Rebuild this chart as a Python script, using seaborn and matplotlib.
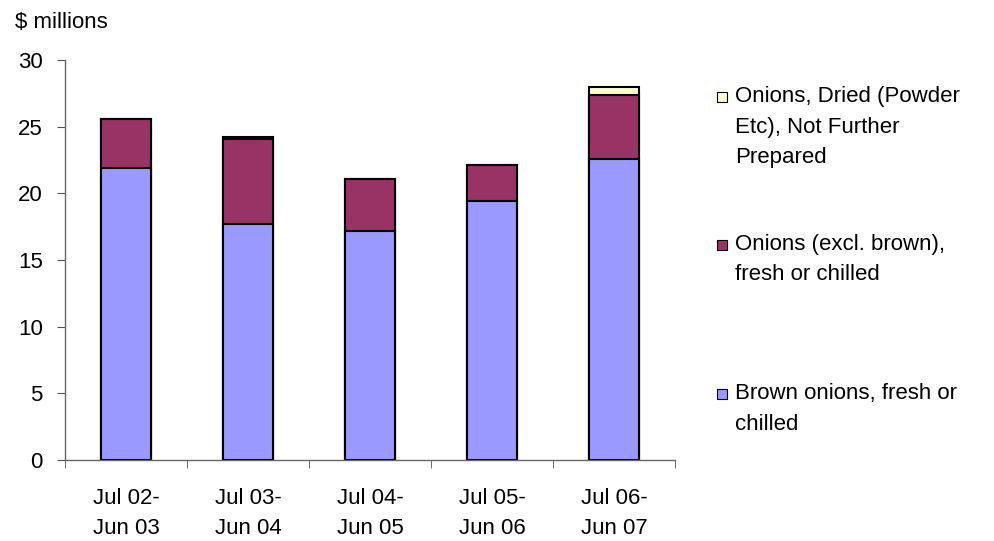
import matplotlib
matplotlib.use("Agg")
import matplotlib.pyplot as plt
from matplotlib.patches import Rectangle
from matplotlib.ticker import FixedLocator
import numpy as np
import pandas as pd
import seaborn as sns

periods = ['Jul 02-\nJun 03', 'Jul 03-\nJun 04', 'Jul 04-\nJun 05', 'Jul 05-\nJun 06', 'Jul 06-\nJun 07']
brown = [21.9, 17.7, 17.2, 19.4, 22.6]
other = [3.7, 6.4, 3.9, 2.7, 4.8]
dried = [0.0, 0.15, 0.0, 0.0, 0.6]

labels = ['Onions, Dried (Powder\nEtc), Not Further\nPrepared',
          'Onions (excl. brown),\nfresh or chilled',
          'Brown onions, fresh or\nchilled']
colors = ['#FFFFCC', '#993366', '#9999FF']

sns.set_style('white')
plt.rcParams['font.family'] = ['Liberation Sans', 'DejaVu Sans']
plt.rcParams['text.color'] = 'black'
plt.rcParams['xtick.labelcolor'] = 'black'
plt.rcParams['ytick.labelcolor'] = 'black'
FS = 16

df = pd.DataFrame({'period': periods, 'brown': brown, 'other': other, 'dried': dried})
df['lvl1'] = df['brown']
df['lvl2'] = df['lvl1'] + df['other']
df['lvl3'] = df['lvl2'] + df['dried']

fig = plt.figure(figsize=(9.94, 5.41), dpi=100)
ax = fig.add_axes([0.0654, 0.150, 0.614, 0.739])

# draw cumulative totals from back to front so each segment shows
for col, c in zip(['lvl3', 'lvl2', 'lvl1'], colors):
    sns.barplot(data=df, x='period', y=col, color=c, width=0.41,
                edgecolor='black', linewidth=1.5, saturation=1, ax=ax)

ax.set_ylim(0, 30)
ax.set_xlim(-0.5, len(periods) - 0.5)
ax.set_yticks(np.arange(0, 31, 5))
ax.tick_params(axis='y', labelsize=FS, length=6, color='#555555', left=True, pad=10)
ax.tick_params(axis='x', which='major', labelsize=FS, length=0, pad=20.5)
ax.xaxis.set_minor_locator(FixedLocator(np.arange(-0.5, len(periods), 1)))
ax.tick_params(axis='x', which='minor', length=6, color='#555555', bottom=True)
for lab in ax.get_xticklabels():
    lab.set_linespacing(1.55)
ax.set_xlabel('')
ax.set_ylabel('')
sns.despine(ax=ax)
for s in ['left', 'bottom']:
    ax.spines[s].set_color('#666666')
    ax.spines[s].set_linewidth(1)

fig.text(15 / 994, 1 - 28 / 541, '$ millions', fontsize=FS, va='baseline', ha='left')

# legend, Excel style: swatch next to first line of each label
line_px = 30.5
legend_base = [102, 250, 399]
for lab, c, y in zip(labels, colors, legend_base):
    fig.patches.append(Rectangle((717 / 994, 1 - y / 541), 10 / 994, 10 / 541,
                                 transform=fig.transFigure, facecolor=c,
                                 edgecolor='black', linewidth=0.8))
    n = lab.count('\n')
    fig.text(735 / 994, 1 - (y + n * line_px) / 541, lab, fontsize=FS,
             va='baseline', ha='left', linespacing=1.58)

fig.savefig('out.png', dpi=100)
